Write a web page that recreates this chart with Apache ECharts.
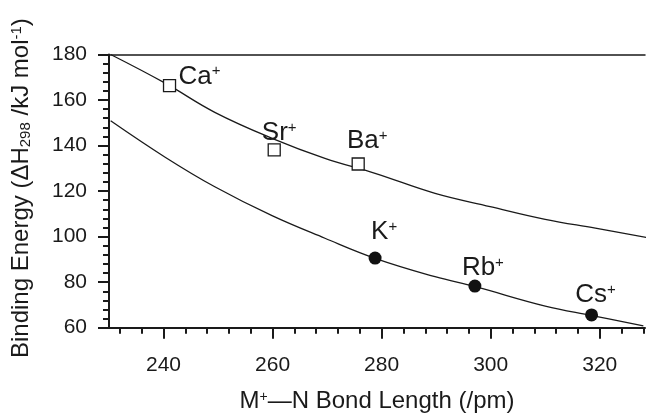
<!DOCTYPE html>
<html>
<head>
<meta charset="utf-8">
<script src="https://cdn.jsdelivr.net/npm/echarts@6/dist/echarts.min.js"></script>
<style>
    html, body { margin: 0; padding: 0; background: #fff; }
    #chart { width: 646px; height: 415px; }
</style>
</head>
<body>
<div id="chart"></div>
<script>
// fitted curves
let upperX = [230.3, 240.3, 249.4, 259.9, 269.6, 278.8, 289.8, 299.9, 310.0, 319.2, 328.5];
let upperY = [180, 167.4, 154.6, 143.2, 134.4, 127.8, 119.0, 113.2, 107.6, 103.7, 99.7];
let lowerX = [230.3, 240.3, 249.4, 259.9, 269.6, 278.8, 289.8, 297.2, 310.0, 318.6, 328.0];
let lowerY = [150.9, 134.9, 121.9, 109.2, 99.3, 90.5, 82.4, 78.0, 69.5, 65.3, 60.8];

// measured points
let earthNames = ['Ca', 'Sr', 'Ba'];
let earthX = [241.1, 260.3, 275.7];
let earthY = [166.3, 138.1, 131.9];
let alkaliNames = ['K', 'Rb', 'Cs'];
let alkaliX = [278.8, 297.1, 318.5];
let alkaliY = [90.6, 78.3, 65.6];

// axis ticks
let xMajor = [240, 260, 280, 300, 320];
let xMinor = [232, 236, 244, 248, 252, 256, 264, 268, 272, 276, 284, 288, 292, 296, 304, 308, 312, 316, 324, 328];

// label offsets (px) for each point
let earthOffsets = [[30, -9], [5, -17], [9, -23]];
let alkaliOffsets = [[9, -26], [8, -18], [4, -20]];

const ink = '#1a1a1a';
const font = '"Liberation Sans", Arial, sans-serif';

function pairs(xs, ys) {
    let out = [];
    for (let i = 0; i < xs.length; i++) out.push([xs[i], ys[i]]);
    return out;
}

function pointData(names, xs, ys, offsets) {
    let out = [];
    for (let i = 0; i < names.length; i++) {
        out.push({
            name: names[i],
            value: [xs[i], ys[i]],
            label: { offset: offsets[i] }
        });
    }
    return out;
}

let pointLabel = {
    show: true,
    position: 'inside',
    fontSize: 26,
    fontFamily: font,
    color: ink,
    textBorderWidth: 0,
    formatter: function (p) { return '{a|' + p.name + '}{s|+}'; },
    rich: {
        a: { fontSize: 26, color: ink, fontFamily: font },
        s: { fontSize: 15, color: ink, fontFamily: font, verticalAlign: 'top' }
    }
};

// ----------------------------------------------------
let chart = echarts.init(document.getElementById('chart'));
let option = {
    animation: false,
    grid: { left: 109, right: 1, top: 54.5, bottom: 87.3, outerBoundsMode: 'none', containLabel: false },
    xAxis: [
        {
            type: 'value', min: 230, max: 328.3, position: 'bottom',
            splitLine: { show: false },
            axisLine: { lineStyle: { color: ink, width: 2 } },
            axisTick: { customValues: xMajor, length: 11, lineStyle: { color: ink, width: 2 } },
            axisLabel: { customValues: xMajor, margin: 27, fontSize: 21, color: ink, fontFamily: font },
            name: '{n|M}{s|+}{n|—N Bond Length (/pm)}',
            nameLocation: 'middle',
            nameGap: 62,
            nameTextStyle: {
                rich: {
                    n: { fontSize: 24, color: ink, fontFamily: font },
                    s: { fontSize: 14, color: ink, fontFamily: font, verticalAlign: 'top' }
                }
            }
        },
        {
            type: 'value', min: 230, max: 328.3, position: 'bottom',
            splitLine: { show: false },
            axisLine: { show: false },
            axisTick: { customValues: xMinor, length: 6, lineStyle: { color: ink, width: 2 } },
            axisLabel: { show: false }
        },
        {
            type: 'value', min: 230, max: 328.3, position: 'top',
            splitLine: { show: false },
            axisLine: { lineStyle: { color: ink, width: 1.5 } },
            axisTick: { show: false },
            axisLabel: { show: false }
        }
    ],
    yAxis: {
        type: 'value', min: 60, max: 180, interval: 20,
        splitLine: { show: false },
        axisLine: { show: true, lineStyle: { color: ink, width: 2 } },
        axisTick: { show: true, length: 11, lineStyle: { color: ink, width: 2 } },
        minorTick: { show: true, splitNumber: 5, length: 6, lineStyle: { color: ink, width: 2 } },
        axisLabel: { margin: 22, fontSize: 21, color: ink, fontFamily: font },
        name: '{n|Binding Energy (ΔH}{b|298}{n| /kJ mol}{t|-1}{n|)}',
        nameLocation: 'middle',
        nameGap: 76,
        nameTextStyle: {
            padding: [0, 0, 0, 6],
            rich: {
                n: { fontSize: 24, color: ink, fontFamily: font },
                b: { fontSize: 15, color: ink, fontFamily: font, verticalAlign: 'bottom' },
                t: { fontSize: 15, color: ink, fontFamily: font, verticalAlign: 'top' }
            }
        }
    },
    series: [
        {
            type: 'line', data: pairs(upperX, upperY), smooth: 0.4,
            symbol: 'none', lineStyle: { color: ink, width: 1.3 }, z: 2
        },
        {
            type: 'line', data: pairs(lowerX, lowerY), smooth: 0.4,
            symbol: 'none', lineStyle: { color: ink, width: 1.3 }, z: 2
        },
        {
            type: 'scatter', data: pointData(earthNames, earthX, earthY, earthOffsets),
            symbol: 'rect', symbolSize: 12,
            itemStyle: { color: '#fff', borderColor: ink, borderWidth: 1.3, opacity: 1 },
            label: pointLabel, z: 3
        },
        {
            type: 'scatter', data: pointData(alkaliNames, alkaliX, alkaliY, alkaliOffsets),
            symbol: 'circle', symbolSize: 13,
            itemStyle: { color: '#111', opacity: 1 },
            label: pointLabel, z: 3
        }
    ]
};
chart.setOption(option);
</script>
</body>
</html>
